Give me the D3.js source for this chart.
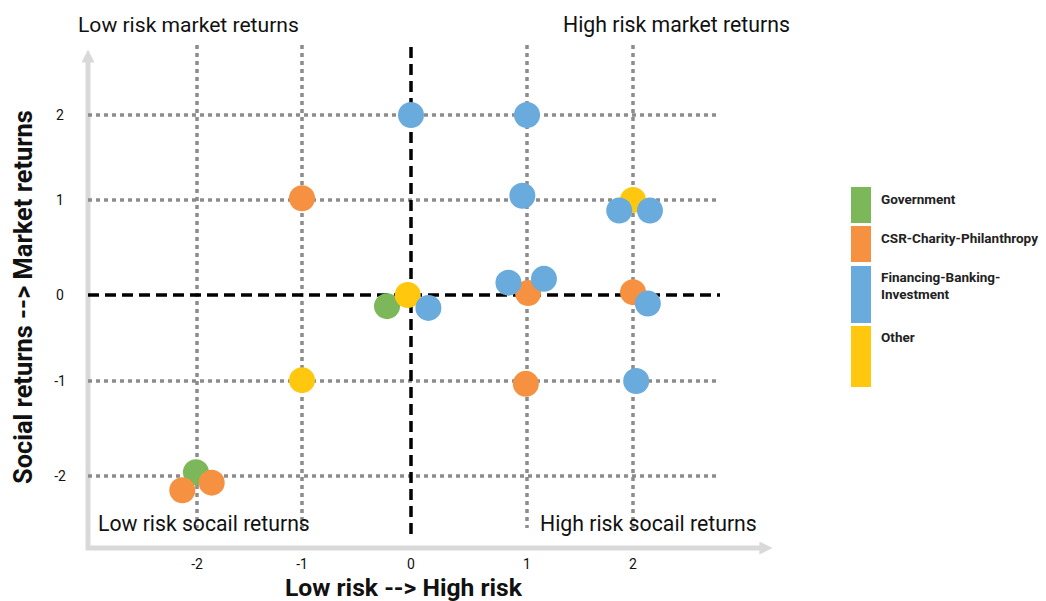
<!DOCTYPE html>
<html><head><meta charset="utf-8">
<script src="https://cdn.jsdelivr.net/npm/d3@7"></script>
<style>body{margin:0;background:#fff}svg{display:block}text{font-family:Roboto,"Noto Sans",sans-serif}</style>
</head><body><svg id="c" width="1046" height="601"></svg>
<script>
const ticks = [-2, -1, 0, 1, 2];
const series = ["Government", "CSR-Charity-Philanthropy", "Financing-Banking-Investment", "Other"];
const colors = ["#7cb85a", "#f59141", "#6aabdd", "#ffc80f"];
const govX = [-0.22, -2.01];
const govY = [-0.13, -1.96];
const csrX = [-1, 1.01, 2, 0.99, -2.14, -1.86];
const csrY = [1.02, 0.02, 0.03, -1.03, -2.15, -2.07];
const othX = [2, -0.03, -1];
const othY = [1, 0, -0.99];
const finX = [0, 1, 0.96, 1.87, 2.16, 0.15, 0.84, 1.16, 2.14, 2.03];
const finY = [2, 2, 1.05, 0.89, 0.89, -0.15, 0.13, 0.17, -0.1, -1];
const quadLabels = ["Low risk market returns", "High risk market returns", "Low risk socail returns", "High risk socail returns"];
const xTitle = "Low risk --> High risk";
const yTitle = "Social returns --> Market returns";

const svg = d3.select("#c");
const x = d3.scaleLinear().domain(ticks).range([197, 302, 411, 527, 633]);
const y = d3.scaleLinear().domain(ticks).range([476, 381, 295, 200, 115]);

function fit(sel, target, f0) {
  const w = sel.node().getComputedTextLength();
  if (w > 0) sel.attr("font-size", f0 * target / w);
  return sel;
}

// axes arrows
const defs = svg.append("defs");
defs.append("marker").attr("id","ar").attr("viewBox","0 0 10 10").attr("refX",2).attr("refY",5)
  .attr("markerWidth",2.6).attr("markerHeight",2.6).attr("orient","auto")
  .append("path").attr("d","M0,0L10,5L0,10Z").attr("fill","#d9d9d9");
svg.append("line").attr("x1",88).attr("y1",550).attr("x2",88).attr("y2",60)
  .attr("stroke","#d9d9d9").attr("stroke-width",5).attr("marker-end","url(#ar)");
svg.append("line").attr("x1",86).attr("y1",548).attr("x2",762).attr("y2",548)
  .attr("stroke","#d9d9d9").attr("stroke-width",5).attr("marker-end","url(#ar)");

// grid
const g = svg.append("g");
g.selectAll(".hg").data(ticks.filter(d=>d!==0)).join("line")
  .attr("x1",88).attr("x2",720).attr("y1",d=>y(d)).attr("y2",d=>y(d))
  .attr("stroke","#8c8c8c").attr("stroke-width",3.5).attr("stroke-dasharray","4,4");
g.selectAll(".vg").data(ticks.filter(d=>d!==0)).join("line")
  .attr("y1",45).attr("y2",528).attr("x1",d=>x(d)).attr("x2",d=>x(d))
  .attr("stroke","#8c8c8c").attr("stroke-width",3.5).attr("stroke-dasharray","4,4");
g.append("line").attr("x1",88).attr("x2",720).attr("y1",y(0)).attr("y2",y(0))
  .attr("stroke","#000").attr("stroke-width",3.5).attr("stroke-dasharray","11,6");
g.append("line").attr("y1",47).attr("y2",540).attr("x1",x(0)).attr("x2",x(0))
  .attr("stroke","#000").attr("stroke-width",3.5).attr("stroke-dasharray","11,6");

// tick labels
svg.selectAll(".yt").data(ticks).join("text").attr("x",60).attr("y",d=>y(d)+5)
  .attr("text-anchor","middle").attr("font-size",14).attr("fill","#111").text(d=>d);
svg.selectAll(".xt").data(ticks).join("text").attr("x",d=>x(d)).attr("y",569)
  .attr("text-anchor","middle").attr("font-size",14).attr("fill","#111").text(d=>d);

// points
const data = [
  govX.map((v,i)=>({x:v,y:govY[i],s:0})),
  csrX.map((v,i)=>({x:v,y:csrY[i],s:1})),
  othX.map((v,i)=>({x:v,y:othY[i],s:3})),
  finX.map((v,i)=>({x:v,y:finY[i],s:2}))
].flat();
svg.selectAll(".pt").data(data).join("circle").attr("cx",d=>x(d.x)).attr("cy",d=>y(d.y))
  .attr("r",13).attr("fill",d=>colors[d.s]);

// quadrant labels
const ql = [[78,32,221],[563,32,227],[98,531,212],[540,531,217]];
quadLabels.forEach((t,i)=>{
  const s = svg.append("text").attr("x",ql[i][0]).attr("y",ql[i][1])
    .attr("font-size",20).attr("fill","#111").text(t);
  fit(s, ql[i][2], 20);
});

// axis titles
fit(svg.append("text").attr("x",285).attr("y",596).attr("font-size",22)
  .attr("font-weight","bold").attr("fill","#111").text(xTitle), 237, 22);
fit(svg.append("text").attr("transform","translate(32,484) rotate(-90)")
  .attr("font-size",24).attr("font-weight","bold").attr("fill","#111").text(yTitle), 374, 24);

// legend
const lg = [[187,36],[226,36],[266,57],[326,61]];
const lt = [[204],[243],[282,299],[342]];
const legendLines = [["Government"],["CSR-Charity-Philanthropy"],["Financing-Banking-","Investment"],["Other"]];
series.forEach((s,i)=>{
  svg.append("rect").attr("x",851).attr("y",lg[i][0]).attr("width",20).attr("height",lg[i][1]).attr("fill",colors[i]);
  legendLines[i].forEach((t,j)=>svg.append("text").attr("x",881).attr("y",lt[i][j]).attr("font-size",13.5)
    .attr("font-weight","bold").attr("fill","#222").text(t));
});
</script></body></html>
